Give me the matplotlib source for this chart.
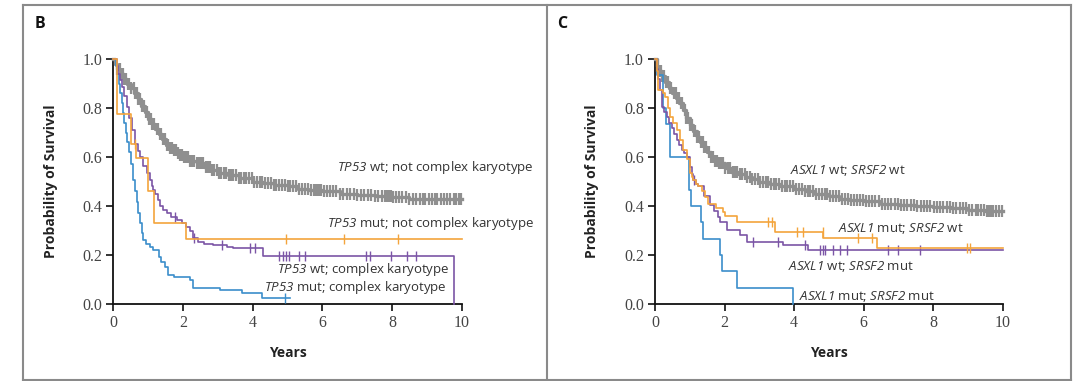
import numpy as np
import matplotlib
matplotlib.use("Agg")
import matplotlib.pyplot as plt
from matplotlib.lines import Line2D

plt.rcParams['font.family'] = ['Open Sans', 'DejaVu Sans']
plt.rcParams['mathtext.fontset'] = 'custom'
plt.rcParams['mathtext.rm'] = 'Open Sans:italic'
plt.rcParams['mathtext.it'] = 'Open Sans:italic'

GRAY = '#8f8f8f'
ORANGE = '#F4A43C'
PURPLE = '#7B55A6'
BLUE = '#3B8ECB'

# ---------------- Panel B data ----------------
b_gray_t = [0, 0.05, 0.1, 0.2, 0.3, 0.4, 0.5, 0.6, 0.7, 0.8, 0.9, 1.0, 1.1, 1.2, 1.3, 1.4, 1.5, 1.6,
            1.7, 1.8, 1.9, 2.0, 2.2, 2.4, 2.6, 2.8, 3.0, 3.3, 3.6, 4.0, 4.3, 4.6, 5.0, 5.3, 5.6, 6.0,
            6.5, 7.0, 7.5, 8.0, 8.5, 9.0, 10.0]
b_gray_s = [1.0, 0.98, 0.96, 0.94, 0.92, 0.90, 0.88, 0.86, 0.835, 0.81, 0.785, 0.755, 0.735, 0.715,
            0.695, 0.675, 0.65, 0.637, 0.627, 0.617, 0.608, 0.60, 0.585, 0.575, 0.56, 0.545, 0.535,
            0.525, 0.515, 0.50, 0.495, 0.485, 0.48, 0.47, 0.465, 0.46, 0.45, 0.445, 0.44, 0.435,
            0.43, 0.428, 0.428]
b_gray_cens = [0.12, 0.18, 0.22, 0.27, 0.31, 0.36, 0.41, 0.44, 0.52, 0.58, 0.63, 0.67, 0.72, 0.76,
               0.83, 0.88, 0.93, 0.97, 1.03, 1.08, 1.12, 1.18, 1.24, 1.28, 1.33, 1.38, 1.44, 1.49,
               1.53, 1.58, 1.63, 1.69, 1.74, 1.79, 1.86, 1.91, 1.97, 2.03, 2.08, 2.14, 2.2, 2.27,
               2.33, 2.4, 2.46, 2.52, 2.58, 2.65, 2.71, 2.77, 2.84, 2.9, 2.97, 3.04, 3.1, 3.17,
               3.24, 3.31, 3.38, 3.45, 3.52, 3.6, 3.67, 3.74, 3.82, 3.9, 3.97, 4.05, 4.13, 4.2,
               4.28, 4.36, 4.44, 4.52, 4.6, 4.68, 4.76, 4.84, 4.92, 5.0, 5.08, 5.16, 5.25, 5.33,
               5.42, 5.5, 5.58, 5.67, 5.76, 5.82, 5.86, 5.9, 5.95, 6.04, 6.13, 6.22, 6.31, 6.4,
               6.5, 6.6, 6.7, 6.8, 6.9, 7.0, 7.1, 7.2, 7.3, 7.4, 7.5, 7.6, 7.7, 7.8, 7.84, 7.88,
               7.92, 7.96, 8.02, 8.1, 8.2, 8.3, 8.4, 8.5, 8.6, 8.7, 8.8, 8.9, 8.96, 9.05, 9.15,
               9.22, 9.3, 9.42, 9.5, 9.58, 9.65, 9.78, 9.85, 9.92, 9.98]

b_orange_t = [0, 0.1, 0.5, 0.64, 1.0, 1.17, 2.1, 10.0]
b_orange_s = [1.0, 0.775, 0.655, 0.595, 0.46, 0.33, 0.265, 0.265]
b_orange_cens = [0.62, 4.95, 6.63, 8.18]

b_purple_t = [0, 0.1, 0.14, 0.19, 0.24, 0.3, 0.38, 0.45, 0.53, 0.62, 0.7, 0.77, 0.86, 0.96, 1.05,
              1.1, 1.15, 1.2, 1.27, 1.34, 1.43, 1.53, 1.65, 1.82, 1.96, 2.1, 2.2, 2.3, 2.44, 2.6,
              2.87, 3.25, 3.44, 4.3, 9.78]
b_purple_s = [1.0, 0.97, 0.94, 0.915, 0.887, 0.85, 0.805, 0.76, 0.71, 0.655, 0.625, 0.60, 0.565,
              0.533, 0.505, 0.48, 0.465, 0.45, 0.425, 0.40, 0.385, 0.37, 0.355, 0.343, 0.33,
              0.315, 0.30, 0.268, 0.255, 0.245, 0.24, 0.233, 0.227, 0.197, 0.0]
b_purple_cens = [1.78, 2.33, 3.12, 3.92, 4.07, 4.77, 4.87, 4.95, 5.03, 5.32, 5.51, 7.24, 7.36,
                 7.97, 8.43, 8.70]

b_blue_t = [0, 0.08, 0.12, 0.16, 0.2, 0.24, 0.28, 0.32, 0.36, 0.4, 0.45, 0.5, 0.57, 0.62, 0.67,
            0.72, 0.77, 0.82, 0.86, 0.95, 1.05, 1.15, 1.3, 1.38, 1.48, 1.58, 1.75, 2.2, 2.3,
            3.06, 3.7, 4.26, 5.07]
b_blue_s = [1.0, 0.97, 0.94, 0.90, 0.86, 0.82, 0.78, 0.74, 0.70, 0.66, 0.62, 0.57, 0.506, 0.46,
            0.415, 0.37, 0.33, 0.29, 0.26, 0.245, 0.234, 0.22, 0.193, 0.17, 0.152, 0.118, 0.11,
            0.098, 0.064, 0.057, 0.045, 0.025, 0.025]
b_blue_cens = [4.93]

b_labels = [r'$\mathrm{TP53}$ wt; not complex karyotype',
            r'$\mathrm{TP53}$ mut; not complex karyotype',
            r'$\mathrm{TP53}$ wt; complex karyotype',
            r'$\mathrm{TP53}$ mut; complex karyotype']

# ---------------- Panel C data ----------------
c_gray_t = [0, 0.05, 0.1, 0.2, 0.3, 0.4, 0.5, 0.6, 0.7, 0.8, 0.9, 1.0, 1.1, 1.2, 1.3, 1.4, 1.5, 1.6,
            1.7, 1.8, 2.0, 2.2, 2.4, 2.6, 2.8, 3.0, 3.3, 3.6, 4.0, 4.3, 4.6, 5.0, 5.3, 5.6, 6.0,
            6.5, 7.0, 7.5, 8.0, 8.5, 9.0, 9.5, 10.0]
c_gray_s = [1.0, 0.97, 0.95, 0.93, 0.905, 0.88, 0.86, 0.84, 0.82, 0.79, 0.76, 0.73, 0.705, 0.68,
            0.66, 0.64, 0.62, 0.60, 0.585, 0.575, 0.555, 0.54, 0.53, 0.52, 0.51, 0.50, 0.49,
            0.48, 0.47, 0.46, 0.45, 0.44, 0.43, 0.425, 0.42, 0.41, 0.405, 0.40, 0.395, 0.39,
            0.385, 0.38, 0.38]
c_gray_cens = [0.06, 0.11, 0.16, 0.21, 0.26, 0.33, 0.38, 0.43, 0.47, 0.54, 0.59, 0.64, 0.69, 0.74,
               0.79, 0.85, 0.9, 0.95, 1.01, 1.06, 1.11, 1.16, 1.22, 1.27, 1.32, 1.37, 1.42, 1.48,
               1.54, 1.6, 1.66, 1.72, 1.78, 1.84, 1.9, 1.96, 2.02, 2.09, 2.16, 2.23, 2.3, 2.37,
               2.44, 2.51, 2.58, 2.66, 2.73, 2.8, 2.88, 2.95, 3.03, 3.1, 3.18, 3.26, 3.33, 3.41,
               3.49, 3.57, 3.65, 3.73, 3.81, 3.89, 3.97, 4.06, 4.14, 4.22, 4.3, 4.39, 4.47, 4.55,
               4.64, 4.72, 4.8, 4.88, 4.95, 5.03, 5.12, 5.2, 5.29, 5.37, 5.46, 5.55, 5.63, 5.72,
               5.8, 5.89, 5.98, 6.07, 6.16, 6.25, 6.34, 6.43, 6.52, 6.61, 6.7, 6.8, 6.89, 6.98,
               7.07, 7.17, 7.26, 7.35, 7.45, 7.54, 7.64, 7.73, 7.82, 7.92, 8.01, 8.1, 8.2, 8.29,
               8.39, 8.48, 8.57, 8.66, 8.76, 8.85, 8.94, 9.03, 9.13, 9.22, 9.3, 9.38, 9.46, 9.55,
               9.6, 9.66, 9.72, 9.8, 9.9, 9.97]

c_orange_t = [0, 0.05, 0.1, 0.22, 0.29, 0.36, 0.43, 0.53, 0.62, 0.72, 0.81, 0.91, 1.0, 1.05, 1.1,
              1.18, 1.25, 1.35, 1.45, 1.53, 1.75, 1.96, 2.0, 2.35, 3.45, 4.84, 6.39, 10.0]
c_orange_s = [1.0, 0.95, 0.873, 0.86, 0.846, 0.80, 0.764, 0.74, 0.71, 0.67, 0.63, 0.59, 0.533,
              0.52, 0.506, 0.49, 0.48, 0.46, 0.435, 0.41, 0.39, 0.377, 0.36, 0.336, 0.295, 0.268,
              0.227, 0.227]
c_orange_cens = [3.26, 3.36, 4.08, 4.27, 4.82, 5.85, 6.23, 8.96, 9.06]

c_purple_t = [0, 0.05, 0.1, 0.14, 0.19, 0.27, 0.34, 0.41, 0.48, 0.55, 0.62, 0.7, 0.77, 0.84, 0.91,
              1.0, 1.05, 1.1, 1.18, 1.25, 1.4, 1.58, 1.7, 1.82, 1.87, 2.06, 2.44, 2.64, 3.69,
              4.41, 10.0]
c_purple_s = [1.0, 0.96, 0.92, 0.873, 0.805, 0.785, 0.765, 0.74, 0.72, 0.695, 0.67, 0.65, 0.63,
              0.615, 0.60, 0.56, 0.53, 0.506, 0.49, 0.48, 0.44, 0.404, 0.38, 0.356, 0.336, 0.302,
              0.282, 0.254, 0.241, 0.22, 0.22]
c_purple_cens = [1.12, 2.83, 3.55, 4.31, 4.75, 4.82, 4.90, 5.13, 5.32, 5.52, 6.69, 7.0, 7.62]

c_blue_t = [0, 0.05, 0.24, 0.32, 0.43, 0.98, 1.03, 1.32, 1.38, 1.86, 1.92, 2.35, 3.97]
c_blue_s = [1.0, 0.933, 0.8, 0.733, 0.6, 0.467, 0.4, 0.333, 0.267, 0.2, 0.133, 0.067, 0.0]
c_blue_cens = []

c_labels = [r'$\mathrm{ASXL1}$ wt; $\mathrm{SRSF2}$ wt',
            r'$\mathrm{ASXL1}$ mut; $\mathrm{SRSF2}$ wt',
            r'$\mathrm{ASXL1}$ wt; $\mathrm{SRSF2}$ mut',
            r'$\mathrm{ASXL1}$ mut; $\mathrm{SRSF2}$ mut']

x_ticks = [0, 2, 4, 6, 8, 10]
y_ticks = [0.0, 0.2, 0.4, 0.6, 0.8, 1.0]

W, H = 1080, 381
fig = plt.figure(figsize=(W / 100, H / 100), dpi=100)


def px(x, y):
    return x / W, 1 - y / H


def km(ax, t, s, cens, color, lw=1.2, ms=7, mew=1.0):
    t = np.asarray(t, float)
    s = np.asarray(s, float)
    ax.step(t, s, where='post', color=color, lw=lw, clip_on=False, zorder=3)
    if len(cens):
        c = np.asarray(cens, float)
        idx = np.searchsorted(t, c, side='right') - 1
        ax.plot(c, s[idx], ls='none', marker='|', ms=ms, mew=mew, color=color,
                clip_on=False, zorder=3)


def setup(ax):
    ax.set_xlim(0, 10)
    ax.set_ylim(0, 1)
    for sp in ['top', 'right']:
        ax.spines[sp].set_visible(False)
    for sp in ['left', 'bottom']:
        ax.spines[sp].set_linewidth(1.3)
        ax.spines[sp].set_color('#111111')
    ax.set_xticks(x_ticks)
    ax.set_yticks(y_ticks)
    ax.set_xticklabels([str(v) for v in x_ticks])
    ax.set_yticklabels([f'{v:.1f}' for v in y_ticks])
    ax.tick_params(direction='out', length=5, width=1.2, color='#111111', pad=3,
                   labelsize=11.5, labelcolor='#444444')
    for lab in ax.get_xticklabels() + ax.get_yticklabels():
        lab.set_fontfamily('Liberation Serif')


axB = fig.add_axes([113.3 / W, 1 - 304 / H, (461.7 - 113.3) / W, (304 - 59) / H])
axC = fig.add_axes([655 / W, 1 - 304 / H, (1002.7 - 655) / W, (304 - 59) / H])
for ax in (axB, axC):
    setup(ax)

km(axB, b_gray_t, b_gray_s, b_gray_cens, GRAY, lw=2.4, ms=8.5, mew=1.6)
km(axB, b_blue_t, b_blue_s, b_blue_cens, BLUE)
km(axB, b_purple_t, b_purple_s, b_purple_cens, PURPLE)
km(axB, b_orange_t, b_orange_s, b_orange_cens, ORANGE)

km(axC, c_gray_t, c_gray_s, c_gray_cens, GRAY, lw=2.4, ms=8.5, mew=1.6)
km(axC, c_blue_t, c_blue_s, c_blue_cens, BLUE)
km(axC, c_purple_t, c_purple_s, c_purple_cens, PURPLE)
km(axC, c_orange_t, c_orange_s, c_orange_cens, ORANGE)

lab_kw = dict(fontsize=9.5, color='#333333', va='center')
# panel B labels (right-aligned)
fig.text(*px(534, 168), b_labels[0], ha='right', **lab_kw)
fig.text(*px(534, 223), b_labels[1], ha='right', **lab_kw)
fig.text(*px(449, 269), b_labels[2], ha='right', **lab_kw)
fig.text(*px(447, 287), b_labels[3], ha='right', **lab_kw)
# panel C labels (left-aligned)
fig.text(*px(790, 171), c_labels[0], ha='left', **lab_kw)
fig.text(*px(838, 228), c_labels[1], ha='left', **lab_kw)
fig.text(*px(788, 266), c_labels[2], ha='left', **lab_kw)
fig.text(*px(799, 296), c_labels[3], ha='left', **lab_kw)

ax_kw = dict(fontsize=10, fontweight='bold', color='#222222')
fig.text(*px(287.5, 353), 'Years', ha='center', va='center', **ax_kw)
fig.text(*px(829, 353), 'Years', ha='center', va='center', **ax_kw)
fig.text(*px(51, 181), 'Probability of Survival', ha='center', va='center', rotation=90, **ax_kw)
fig.text(*px(592, 181), 'Probability of Survival', ha='center', va='center', rotation=90, **ax_kw)

fig.text(*px(39.5, 24), 'B', ha='center', va='center', fontsize=11.5, fontweight='bold', color='#111111')
fig.text(*px(562, 24), 'C', ha='center', va='center', fontsize=11.5, fontweight='bold', color='#111111')

# panel frames
fc = '#8a8a8a'
flw = 1.5
for (x0, y0, x1, y1) in [(23, 5, 1071, 5), (23, 5, 23, 380), (547, 5, 547, 380),
                         (1071, 5, 1071, 380), (23, 380, 1071, 380)]:
    a, b = px(x0, y0)
    c, d = px(x1, y1)
    fig.add_artist(Line2D([a, c], [b, d], color=fc, lw=flw, transform=fig.transFigure))

fig.savefig('out.png', dpi=100, facecolor='white')
